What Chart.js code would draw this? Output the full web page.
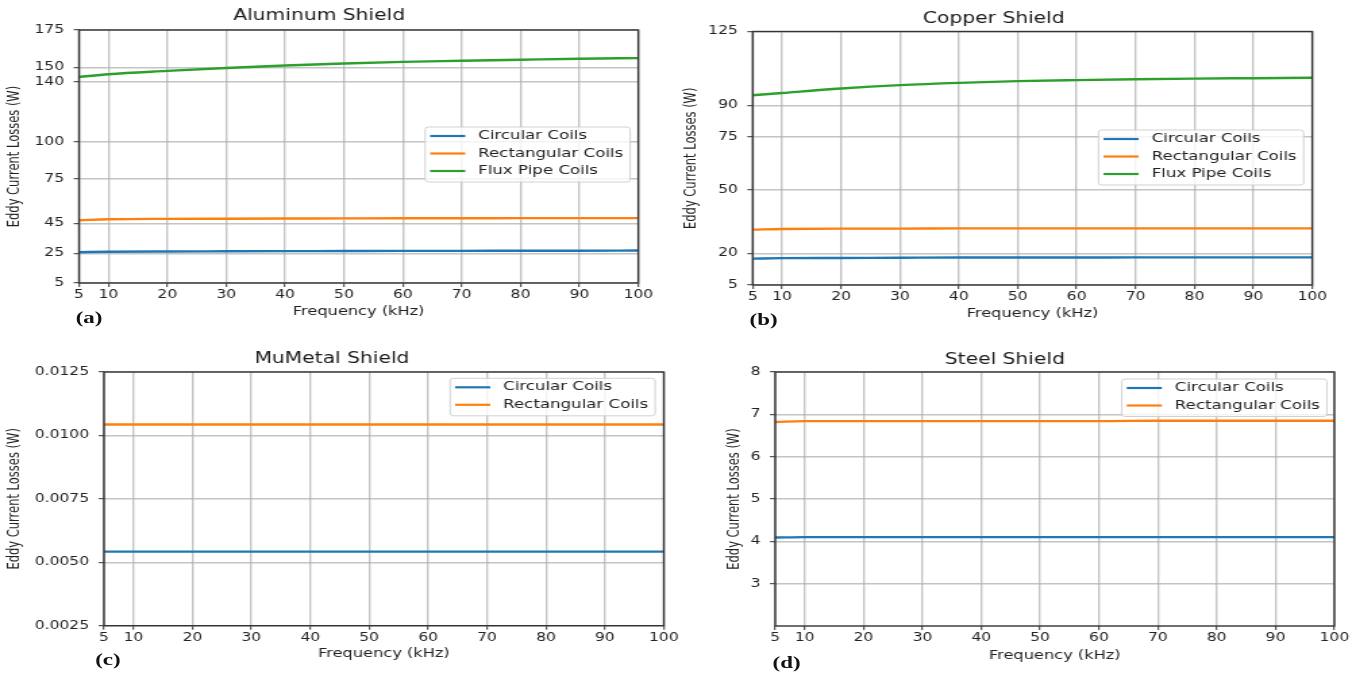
<!DOCTYPE html>
<html>
<head>
<meta charset="utf-8">
<script src="https://cdn.jsdelivr.net/npm/chart.js@4"></script>
<style>
  html, body { margin: 0; padding: 0; background: #fff; }
  body { width: 1356px; height: 675px; overflow: hidden; position: relative; }
  /* the source figure is stretched sideways, so the whole stage is too */
  #stage { position: absolute; left: 0; top: 0; width: 1004px; height: 675px; transform: scaleX(1.3506); transform-origin: 0 0; }
  #stage canvas { position: absolute; }
  .tag { position: absolute; font: bold 17px "Liberation Serif", serif; line-height: 20px; color: #111; }
</style>
</head>
<body>
<div id="stage">
  <canvas id="chartA" width="500" height="330" style="left:0px;top:0px"></canvas>
  <canvas id="chartB" width="504" height="330" style="left:500px;top:0px"></canvas>
  <canvas id="chartC" width="510" height="335" style="left:0px;top:340px"></canvas>
  <canvas id="chartD" width="504" height="335" style="left:500px;top:340px"></canvas>
  <div class="tag" style="left:56px;top:308px">(a)</div>
  <div class="tag" style="left:555px;top:310px">(b)</div>
  <div class="tag" style="left:70.5px;top:650px">(c)</div>
  <div class="tag" style="left:572px;top:653px">(d)</div>
</div>
<script>
const freq = [5, 10, 20, 30, 40, 50, 60, 70, 80, 90, 100];
const freqTicks = [5, 10, 20, 30, 40, 50, 60, 70, 80, 90, 100];
const seriesNames = ['Circular Coils', 'Rectangular Coils', 'Flux Pipe Coils'];

// Aluminum
const aluCircular = [25.7, 26.0, 26.2, 26.3, 26.4, 26.5, 26.6, 26.6, 26.7, 26.7, 26.8];
const aluRect = [47.2, 47.8, 48.1, 48.2, 48.3, 48.4, 48.5, 48.5, 48.6, 48.6, 48.6];
const aluFlux = [143.5, 145.3, 147.5, 149.5, 151.1, 152.5, 153.6, 154.3, 155.0, 155.7, 156.1];
const aluTicks = [5, 25, 45, 75, 100, 140, 150, 175];

// Copper
const cuCircular = [17.5, 17.7, 17.8, 17.9, 18.0, 18.0, 18.0, 18.1, 18.1, 18.1, 18.1];
const cuRect = [31.2, 31.5, 31.7, 31.7, 31.8, 31.8, 31.8, 31.8, 31.8, 31.8, 31.8];
const cuFlux = [94.8, 95.9, 98.0, 99.6, 100.7, 101.5, 102.0, 102.4, 102.7, 102.9, 103.1];
const cuTicks = [5, 20, 50, 75, 90, 125];

// MuMetal
const muCircular = [0.00542, 0.00542, 0.00542, 0.00542, 0.00542, 0.00542, 0.00542, 0.00542, 0.00542, 0.00542, 0.00542];
const muRect = [0.01043, 0.01043, 0.01043, 0.01043, 0.01043, 0.01043, 0.01043, 0.01043, 0.01043, 0.01043, 0.01043];
const muTicks = [0.0025, 0.0050, 0.0075, 0.0100, 0.0125];

// Steel
const steelCircular = [4.09, 4.10, 4.10, 4.10, 4.10, 4.10, 4.10, 4.10, 4.10, 4.10, 4.10];
const steelRect = [6.82, 6.84, 6.84, 6.84, 6.84, 6.84, 6.84, 6.85, 6.85, 6.85, 6.85];
const steelTicks = [3, 4, 5, 6, 7, 8];

const colors = ['#1f77b4', '#ff7f0e', '#2ca02c'];
const textColor = '#222';
const gridColor = 'rgba(176,176,176,0.75)';

Chart.defaults.font.family = '"DejaVu Sans", sans-serif';

// matplotlib draws all four spines
const framePlugin = {
  id: 'frame',
  afterDatasetsDraw(chart) {
    const { ctx, chartArea: a } = chart;
    ctx.save();
    ctx.strokeStyle = '#333';
    ctx.lineWidth = 1.4;
    ctx.strokeRect(a.left, a.top, a.right - a.left, a.bottom - a.top);
    ctx.restore();
  }
};

// legend box inside the plot, like matplotlib's
const boxLegendPlugin = {
  id: 'boxLegend',
  afterDraw(chart, args, opts) {
    const { ctx, chartArea: a } = chart;
    const items = chart.data.datasets;
    ctx.save();
    ctx.font = '12.3px "DejaVu Sans"';
    const textW = Math.max(...items.map(d => ctx.measureText(d.label).width));
    const w = 3.7 + 26 + 9.6 + textW + 5.2;
    const rowH = 17.5;
    const h = 9 + rowH * (items.length - 1) + 11;
    const x = a.right - opts.right - w;
    const y = a.top + opts.top;
    ctx.beginPath();
    if (ctx.roundRect) ctx.roundRect(x, y, w, h, 2.5); else ctx.rect(x, y, w, h);
    ctx.fillStyle = 'rgba(255,255,255,0.8)';
    ctx.fill();
    ctx.strokeStyle = 'rgba(204,204,204,0.9)';
    ctx.lineWidth = 1;
    ctx.stroke();
    items.forEach((d, i) => {
      const cy = y + 9 + i * rowH;
      ctx.strokeStyle = d.borderColor;
      ctx.lineWidth = 2.2;
      ctx.beginPath();
      ctx.moveTo(x + 3.7, cy);
      ctx.lineTo(x + 29.7, cy);
      ctx.stroke();
      ctx.fillStyle = textColor;
      ctx.textBaseline = 'middle';
      ctx.textAlign = 'left';
      ctx.fillText(d.label, x + 39.3, cy);
    });
    ctx.restore();
  }
};

function makeChart(id, cfg) {
  const datasets = cfg.series.map((vals, i) => ({
    label: seriesNames[i],
    data: freq.map((f, j) => ({ x: f, y: vals[j] })),
    borderColor: colors[i],
    backgroundColor: colors[i],
    borderWidth: 2.4,
    pointRadius: 0,
    cubicInterpolationMode: 'monotone',
    fill: false
  }));

  return new Chart(document.getElementById(id), {
    type: 'line',
    data: { datasets: datasets },
    options: {
      responsive: false,
      animation: false,
      events: [],
      layout: { padding: { left: 0, right: cfg.padRight, top: 0, bottom: 0 } },
      plugins: {
        legend: { display: false },
        tooltip: { enabled: false },
        title: {
          display: true,
          text: cfg.title,
          color: '#1a1a1a',
          font: { size: 15, weight: 'normal' },
          padding: { top: cfg.titleTop, bottom: cfg.titleBottom }
        },
        boxLegend: { top: cfg.legendTop, right: cfg.legendRight }
      },
      scales: {
        x: {
          type: 'linear',
          min: 5,
          max: 100,
          afterBuildTicks: s => { s.ticks = freqTicks.map(v => ({ value: v })); },
          afterFit: s => { s.height = cfg.xHeight; },
          ticks: { autoSkip: false, maxRotation: 0, padding: 1, color: textColor, font: { size: 11.5 }, callback: v => String(v) },
          grid: { color: gridColor, lineWidth: 1.4, tickLength: 4, tickColor: '#333', tickWidth: 1 },
          border: { display: false },
          title: { display: true, text: 'Frequency (kHz)', color: textColor, font: { size: 12 }, padding: { top: 0, bottom: cfg.xTitlePad } }
        },
        y: {
          type: 'linear',
          min: cfg.yMin,
          max: cfg.yMax,
          afterBuildTicks: s => { s.ticks = cfg.yTicks.map(v => ({ value: v })); },
          afterFit: s => { s.width = cfg.yWidth; },
          ticks: { autoSkip: false, padding: 7, color: textColor, font: { size: 11.5 }, callback: cfg.fmt },
          grid: { color: gridColor, lineWidth: 1.4, tickLength: 4, tickColor: '#333', tickWidth: 1 },
          border: { display: false },
          title: { display: true, text: 'Eddy Current Losses (W)', color: textColor, font: { size: 11.5 }, padding: { top: cfg.yTitlePad, bottom: 0 } }
        }
      }
    },
    plugins: [framePlugin, boxLegendPlugin]
  });
}

const intFmt = v => String(v);

makeChart('chartA', {
  title: 'Aluminum Shield',
  series: [aluCircular, aluRect, aluFlux],
  yMin: 5, yMax: 175, yTicks: aluTicks, fmt: intFmt,
  padRight: 27.4, titleTop: 7, titleBottom: 5,
  yWidth: 58.5, yTitlePad: 4.1, xHeight: 47, xTitlePad: 11.1,
  legendTop: 97, legendRight: 6
});

makeChart('chartB', {
  title: 'Copper Shield',
  series: [cuCircular, cuRect, cuFlux],
  yMin: 5, yMax: 125, yTicks: cuTicks, fmt: intFmt,
  padRight: 32.4, titleTop: 10, titleBottom: 3.5,
  yWidth: 57.3, yTitlePad: 5, xHeight: 45, xTitlePad: 8.8,
  legendTop: 98.5, legendRight: 6.4
});

makeChart('chartC', {
  title: 'MuMetal Shield',
  series: [muCircular, muRect],
  yMin: 0.0025, yMax: 0.0125, yTicks: muTicks, fmt: v => v.toFixed(4),
  padRight: 18.5, titleTop: 10, titleBottom: 4,
  yWidth: 77, yTitlePad: 4, xHeight: 49.3, xTitlePad: 13.8,
  legendTop: 6.3, legendRight: 6.4
});

makeChart('chartD', {
  title: 'Steel Shield',
  series: [steelCircular, steelRect],
  yMin: 2, yMax: 8, yTicks: steelTicks, fmt: intFmt,
  padRight: 16, titleTop: 11, titleBottom: 3,
  yWidth: 74, yTitlePad: 36.8, xHeight: 49, xTitlePad: 12.1,
  legendTop: 7, legendRight: 5.6
});
</script>
</body>
</html>
